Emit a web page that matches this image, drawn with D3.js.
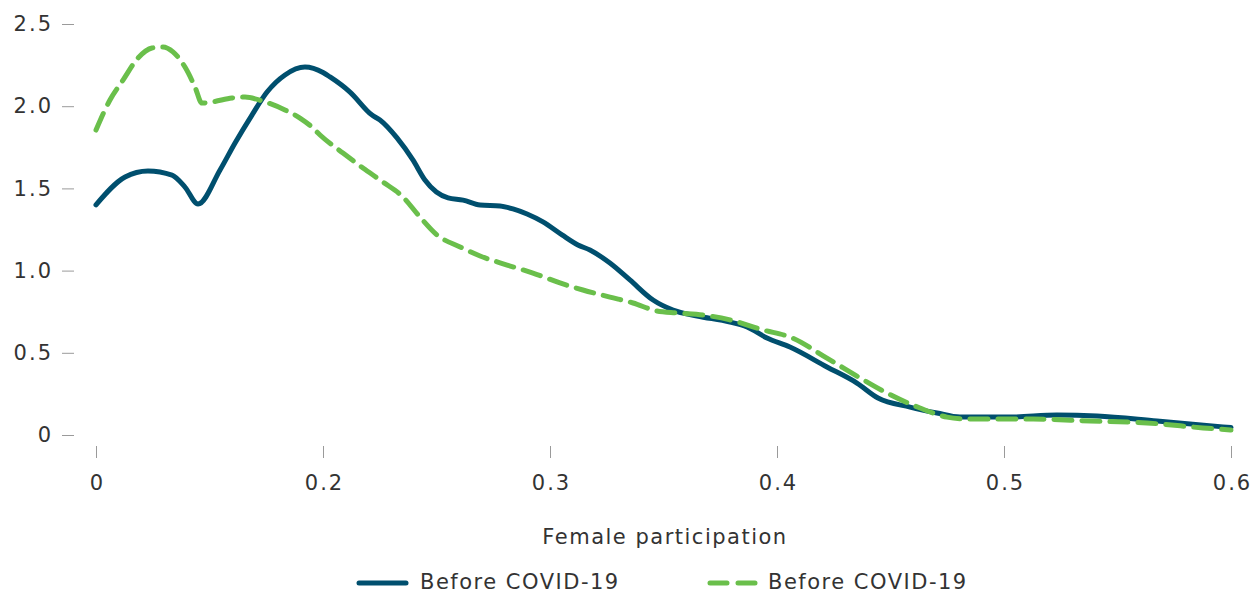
<!DOCTYPE html>
<html>
<head>
<meta charset="utf-8">
<script src="https://cdn.jsdelivr.net/npm/d3@7"></script>
<style>
  html, body { margin: 0; padding: 0; background: #fff; }
  svg { display: block; }
  text { font-family: "DejaVu Sans", "Open Sans", sans-serif; fill: #333; }
</style>
</head>
<body>
<svg id="chart" width="1254" height="594"></svg>
<script>
// ---- data ----
const xTickValues = [0, 0.2, 0.3, 0.4, 0.5, 0.6];
const xTickLabels = ["0", "0.2", "0.3", "0.4", "0.5", "0.6"];
const yTickValues = [0, 0.5, 1.0, 1.5, 2.0, 2.5];
const yTickLabels = ["0", "0.5", "1.0", "1.5", "2.0", "2.5"];
const xTitle = "Female participation";
const seriesNames = ["Before COVID-19", "Before COVID-19"];

const seriesA_x = [0, 0.0256, 0.0458, 0.067, 0.0784, 0.0899, 0.1093, 0.1225, 0.1374, 0.1507, 0.1665, 0.1841, 0.2, 0.2031, 0.2119, 0.2216, 0.2251, 0.2326, 0.2396, 0.2449, 0.2551, 0.2617, 0.2692, 0.278, 0.2837, 0.2899, 0.2969, 0.3053, 0.3123, 0.3176, 0.3264, 0.3352, 0.3454, 0.3542, 0.3648, 0.3793, 0.3868, 0.3956, 0.4057, 0.422, 0.4352, 0.4445, 0.4586, 0.4705, 0.4806, 0.5026, 0.5233, 0.541, 0.5674, 0.6];
const seriesA_y = [1.40, 1.569, 1.606, 1.581, 1.508, 1.405, 1.612, 1.776, 1.946, 2.086, 2.190, 2.238, 2.205, 2.178, 2.086, 1.946, 1.916, 1.807, 1.673, 1.551, 1.442, 1.429, 1.399, 1.393, 1.375, 1.344, 1.296, 1.217, 1.156, 1.125, 1.046, 0.943, 0.821, 0.760, 0.724, 0.687, 0.657, 0.590, 0.535, 0.414, 0.316, 0.225, 0.170, 0.134, 0.109, 0.109, 0.122, 0.116, 0.085, 0.045];

const seriesB_x = [0, 0.0123, 0.0238, 0.037, 0.0493, 0.059, 0.0678, 0.0784, 0.0872, 0.0934, 0.1022, 0.1198, 0.1313, 0.1463, 0.1665, 0.1797, 0.1903, 0.1974, 0.2088, 0.2176, 0.2264, 0.2352, 0.2427, 0.2502, 0.2604, 0.2692, 0.2811, 0.2925, 0.3044, 0.3145, 0.3264, 0.3366, 0.3471, 0.3559, 0.3674, 0.3793, 0.3938, 0.4057, 0.422, 0.4366, 0.4485, 0.463, 0.4749, 0.4837, 0.4982, 0.5128, 0.5379, 0.563, 0.5877, 0.6];
const seriesB_y = [1.855, 2.038, 2.159, 2.293, 2.354, 2.360, 2.330, 2.238, 2.117, 2.019, 2.026, 2.050, 2.056, 2.032, 1.977, 1.928, 1.873, 1.825, 1.715, 1.624, 1.539, 1.448, 1.326, 1.217, 1.144, 1.089, 1.034, 0.985, 0.925, 0.882, 0.839, 0.803, 0.754, 0.742, 0.730, 0.700, 0.639, 0.596, 0.468, 0.347, 0.255, 0.164, 0.109, 0.097, 0.097, 0.097, 0.085, 0.073, 0.043, 0.030];

const colors = ["#004f6e", "#6abf4b"];

// ---- chart ----
const svg = d3.select("#chart");
const fontSize = "21px";
const x = d3.scaleLinear()
  .domain(xTickValues)
  .range(xTickValues.map((d, i) => 96 + i * 227));
const y = d3.scaleLinear().domain([0, 2.5]).range([435, 24]);

// y axis
const yAxis = d3.axisLeft(y)
  .tickValues(yTickValues)
  .tickFormat((d, i) => yTickLabels[i])
  .tickSize(12)
  .tickPadding(11);
const gy = svg.append("g").attr("transform", "translate(74,0)").call(yAxis);
gy.select(".domain").remove();
gy.selectAll(".tick line").attr("stroke", "#9a9a9a");
gy.selectAll(".tick text").style("font-size", fontSize).style("letter-spacing", "2px")
  .attr("fill", "#333").attr("dx", "2px");

// x axis
const xAxis = d3.axisBottom(x)
  .tickValues(xTickValues)
  .tickFormat((d, i) => xTickLabels[i])
  .tickSize(12)
  .tickPadding(17);
const gx = svg.append("g").attr("transform", "translate(0,446)").call(xAxis);
gx.select(".domain").remove();
gx.selectAll(".tick line").attr("stroke", "#9a9a9a");
gx.selectAll(".tick text").style("font-size", fontSize).style("letter-spacing", "2px")
  .attr("fill", "#333").attr("dx", "1px");

// axis title
svg.append("text")
  .attr("x", 665).attr("y", 544)
  .attr("text-anchor", "middle")
  .style("font-size", fontSize)
  .style("letter-spacing", "1.5px")
  .text(xTitle);

// lines
const line = d3.line()
  .x(d => x(d[0]))
  .y(d => y(d[1]))
  .curve(d3.curveMonotoneX);

const dataA = seriesA_x.map((v, i) => [v, seriesA_y[i]]);
const dataB = seriesB_x.map((v, i) => [v, seriesB_y[i]]);

svg.append("path")
  .datum(dataA)
  .attr("d", line)
  .attr("fill", "none")
  .attr("stroke", colors[0])
  .attr("stroke-width", 5)
  .attr("stroke-linejoin", "round")
  .attr("stroke-linecap", "round");

svg.append("path")
  .datum(dataB)
  .attr("d", line)
  .attr("fill", "none")
  .attr("stroke", colors[1])
  .attr("stroke-width", 5)
  .attr("stroke-dasharray", "18,10")
  .attr("stroke-linejoin", "round")
  .attr("stroke-linecap", "round");

// legend
const legend = svg.append("g");
const legendItems = [
  { x1: 359, x2: 406, tx: 420, dash: null },
  { x1: 710, x2: 755, tx: 768, dash: "17,11" }
];
legendItems.forEach((it, i) => {
  legend.append("line")
    .attr("x1", it.x1).attr("x2", it.x2)
    .attr("y1", 583).attr("y2", 583)
    .attr("stroke", colors[i])
    .attr("stroke-width", 5)
    .attr("stroke-linecap", "round")
    .attr("stroke-dasharray", it.dash);
  legend.append("text")
    .attr("x", it.tx).attr("y", 589)
    .style("font-size", fontSize)
    .style("letter-spacing", "1.5px")
    .text(seriesNames[i]);
});
</script>
</body>
</html>
